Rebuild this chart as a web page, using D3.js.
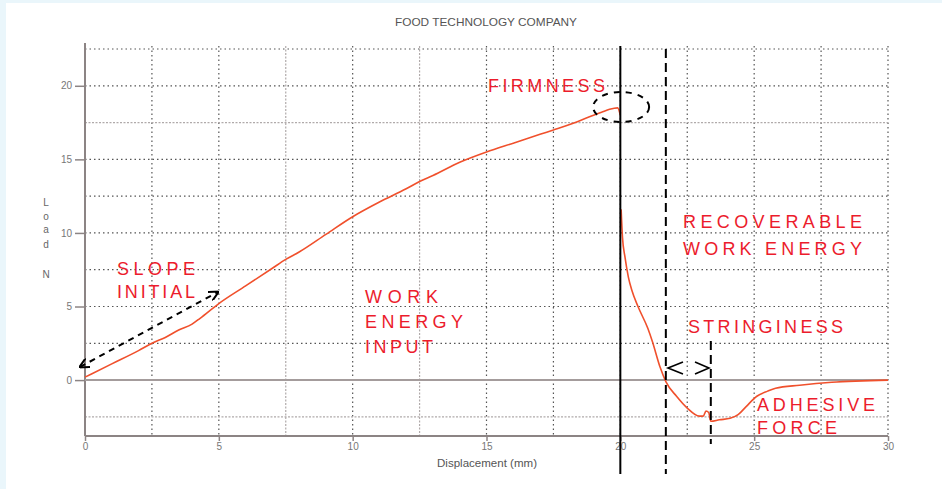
<!DOCTYPE html>
<html>
<head>
<meta charset="utf-8">
<script src="https://cdn.jsdelivr.net/npm/d3@7"></script>
<style>
body { margin: 0; background: #eaf6fb; }
svg { display: block; }
text { font-family: "Liberation Sans", Arial, sans-serif; }
</style>
</head>
<body>
<svg></svg>
<script>
var screen = {width: 942, height: 489};

// loading part of the curve (probe going down)
var loadX = [0, 1, 2, 2.5, 3, 3.5, 4, 4.3, 5, 6, 7, 7.5, 8, 9, 10, 11, 12, 12.5, 13, 14, 15, 16, 17, 17.5, 18, 19, 19.3, 19.6, 19.9, 20];
var loadY = [0.2, 1.1, 2.0, 2.5, 2.9, 3.4, 3.8, 4.2, 5.2, 6.4, 7.6, 8.2, 8.7, 9.9, 11.1, 12.1, 13.0, 13.5, 13.9, 14.8, 15.5, 16.1, 16.7, 17.0, 17.3, 18.0, 18.2, 18.4, 18.5, 18.0];

// withdrawal part of the curve
var unloadX = [20.03, 20.08, 20.17, 20.3, 20.43, 20.66, 21.03, 21.2, 21.48, 21.7, 22.1, 22.5, 22.95, 23.1, 23.2, 23.3, 23.38, 23.7, 24.1, 24.4, 24.7, 25.1, 25.5, 25.8, 26.7, 27.9, 30];
var unloadY = [11.6, 9.7, 8.4, 7.0, 6.1, 5.0, 3.5, 2.6, 0.9, -0.1, -1.1, -1.9, -2.45, -2.45, -2.1, -2.2, -2.8, -2.7, -2.6, -2.35, -1.8, -1.1, -0.75, -0.55, -0.35, -0.15, 0];

var xTicks = [0, 5, 10, 15, 20, 25, 30];
var yTicks = [0, 5, 10, 15, 20];
var gridX = [2.5, 5, 7.5, 10, 12.5, 15, 17.5, 20, 22.5, 25, 27.5, 30];
var gridY = [-2.5, 2.5, 5, 7.5, 10, 12.5, 15, 17.5, 20, 22.5];
var lightX = [7.5, 12.5];
var lightY = [-2.5, 17.5];

// markers on the x axis
var peakX = 20;
var cutX = 21.7;
var stringEndX = 23.38;

var svg = d3.select("svg")
    .attr("width", screen.width)
    .attr("height", screen.height)

svg.append("rect")
    .attr("x", 6).attr("y", 3)
    .attr("width", screen.width - 6)
    .attr("height", screen.height - 3)
    .attr("fill", "white")

var xScale = d3.scaleLinear()
    .domain([0, 30])
    .range([85, 888]);

var yScale = d3.scaleLinear()
    .domain([-3.8, 22.5])
    .range([436, 49]);

// grid
svg.append("g").selectAll("line")
    .data(gridX)
    .enter()
    .append("line")
    .attr("x1", function(d) { return xScale(d) })
    .attr("x2", function(d) { return xScale(d) })
    .attr("y1", yScale(22.5) - 3)
    .attr("y2", yScale(-3.8))
    .attr("stroke", function(d) { return lightX.indexOf(d) >= 0 ? "#b0aaaa" : "#555" })
    .attr("stroke-width", 1.2)
    .attr("stroke-dasharray", function(d) { return lightX.indexOf(d) >= 0 ? "2,1.5" : "1.5,3" })

svg.append("g").selectAll("line")
    .data(gridY)
    .enter()
    .append("line")
    .attr("x1", xScale(0))
    .attr("x2", xScale(30))
    .attr("y1", function(d) { return yScale(d) })
    .attr("y2", function(d) { return yScale(d) })
    .attr("stroke", function(d) { return lightY.indexOf(d) >= 0 ? "#b0aaaa" : "#555" })
    .attr("stroke-width", 1.2)
    .attr("stroke-dasharray", function(d) { return lightY.indexOf(d) >= 0 ? "2,1.5" : "1.5,3" })

// axes
var yAxis = d3.axisLeft(yScale).tickValues(yTicks).tickSize(10).tickPadding(3)
var xAxis = d3.axisBottom(xScale).tickValues(xTicks).tickSize(5).tickPadding(2)

var ya = svg.append("g")
    .attr("transform", "translate(" + xScale(0) + ",0)")
    .call(yAxis)
var xa = svg.append("g")
    .attr("transform", "translate(0," + yScale(-3.8) + ")")
    .call(xAxis)

ya.select(".domain").remove()
xa.select(".domain").remove()
svg.selectAll(".tick line").attr("stroke", "#8c8484").attr("stroke-width", 1.5)
svg.selectAll(".tick text")
    .attr("fill", "#777")
    .style("font-size", "10px")

svg.append("line")
    .attr("x1", xScale(0)).attr("x2", xScale(0))
    .attr("y1", 43).attr("y2", yScale(-3.8))
    .attr("stroke", "#8c8484").attr("stroke-width", 2)
svg.append("line")
    .attr("x1", xScale(0)).attr("x2", xScale(30))
    .attr("y1", yScale(-3.8)).attr("y2", yScale(-3.8))
    .attr("stroke", "#8c8484").attr("stroke-width", 2)
svg.append("line")
    .attr("x1", xScale(0)).attr("x2", xScale(30))
    .attr("y1", yScale(0)).attr("y2", yScale(0))
    .attr("stroke", "#a49c9c").attr("stroke-width", 2)

// titles
svg.append("text")
    .attr("x", 395).attr("y", 26)
    .attr("textLength", 182)
    .attr("lengthAdjust", "spacingAndGlyphs")
    .attr("fill", "#555")
    .style("font-size", "11px")
    .text("FOOD TECHNOLOGY COMPANY")

svg.append("text")
    .attr("x", 437).attr("y", 467)
    .attr("textLength", 100)
    .attr("lengthAdjust", "spacingAndGlyphs")
    .attr("fill", "#555")
    .style("font-size", "10px")
    .text("Displacement (mm)")

var loadLabel = [["L", 206], ["o", 220], ["a", 233], ["d", 248], ["N", 278]]
svg.append("g").selectAll("text")
    .data(loadLabel)
    .enter()
    .append("text")
    .attr("x", 46)
    .attr("y", function(d) { return d[1] })
    .attr("text-anchor", "middle")
    .attr("fill", "#666")
    .style("font-size", "10px")
    .text(function(d) { return d[0] })

// curve
var line = d3.line()
    .x(function(d) { return xScale(d[0]) })
    .y(function(d) { return yScale(d[1]) })
    .curve(d3.curveMonotoneX)

var loadPts = loadX.map(function(x, i) { return [x, loadY[i]] })
var unloadPts = unloadX.map(function(x, i) { return [x, unloadY[i]] })

svg.append("path")
    .datum(loadPts)
    .attr("d", line)
    .attr("fill", "none")
    .attr("stroke", "#f0502c")
    .attr("stroke-width", 1.6)
svg.append("path")
    .datum(unloadPts)
    .attr("d", line)
    .attr("fill", "none")
    .attr("stroke", "#f0502c")
    .attr("stroke-width", 1.6)

// vertical markers
svg.append("line")
    .attr("x1", xScale(peakX)).attr("x2", xScale(peakX))
    .attr("y1", 46).attr("y2", 474)
    .attr("stroke", "black").attr("stroke-width", 2)
svg.append("line")
    .attr("x1", xScale(cutX)).attr("x2", xScale(cutX))
    .attr("y1", 49).attr("y2", 474)
    .attr("stroke", "black").attr("stroke-width", 2)
    .attr("stroke-dasharray", "9,5")
svg.append("line")
    .attr("x1", xScale(stringEndX)).attr("x2", xScale(stringEndX))
    .attr("y1", 341).attr("y2", 444)
    .attr("stroke", "black").attr("stroke-width", 2)
    .attr("stroke-dasharray", "9,5")

// stringiness chevrons
var cy = 368
svg.append("path")
    .attr("d", "M683," + (cy - 6) + " L668," + cy + " L683," + (cy + 6))
    .attr("fill", "none").attr("stroke", "black").attr("stroke-width", 1.6)
svg.append("path")
    .attr("d", "M695," + (cy - 6) + " L709," + cy + " L695," + (cy + 6))
    .attr("fill", "none").attr("stroke", "black").attr("stroke-width", 1.6)

// firmness ellipse
svg.append("ellipse")
    .attr("cx", xScale(20.03)).attr("cy", 107)
    .attr("rx", 28).attr("ry", 15)
    .attr("fill", "none")
    .attr("stroke", "black").attr("stroke-width", 2)
    .attr("stroke-dasharray", "6,6")

// initial slope arrow
svg.append("defs").append("marker")
    .attr("id", "arr")
    .attr("viewBox", "0 0 10 10")
    .attr("refX", 9).attr("refY", 5)
    .attr("markerWidth", 5).attr("markerHeight", 5)
    .attr("orient", "auto-start-reverse")
    .append("path")
    .attr("d", "M0,0 L10,5 L0,10")
    .attr("fill", "none").attr("stroke", "black").attr("stroke-width", 2)

svg.append("line")
    .attr("x1", 80).attr("y1", 367)
    .attr("x2", 218).attr("y2", 292)
    .attr("stroke", "black").attr("stroke-width", 2)
    .attr("stroke-dasharray", "6,5")
    .attr("marker-start", "url(#arr)")
    .attr("marker-end", "url(#arr)")

// red notes
var notes = [
    {t: "FIRMNESS", x: 488, y: 92, w: 117},
    {t: "SLOPE", x: 117, y: 275, w: 78},
    {t: "INITIAL", x: 117, y: 298, w: 78},
    {t: "WORK", x: 365, y: 303, w: 73},
    {t: "ENERGY", x: 365, y: 328, w: 98},
    {t: "INPUT", x: 365, y: 353, w: 68},
    {t: "RECOVERABLE", x: 683, y: 228, w: 179},
    {t: "WORK ENERGY", x: 683, y: 255, w: 179},
    {t: "STRINGINESS", x: 688, y: 333, w: 155},
    {t: "ADHESIVE", x: 757, y: 411, w: 118},
    {t: "FORCE", x: 757, y: 434, w: 80}
]

svg.append("g").selectAll("text")
    .data(notes)
    .enter()
    .append("text")
    .attr("x", function(d) { return d.x })
    .attr("y", function(d) { return d.y })
    .attr("textLength", function(d) { return d.w })
    .attr("lengthAdjust", "spacing")
    .attr("fill", "#ec1c2c")
    .style("font-size", "18px")
    .text(function(d) { return d.t })
</script>
</body>
</html>
